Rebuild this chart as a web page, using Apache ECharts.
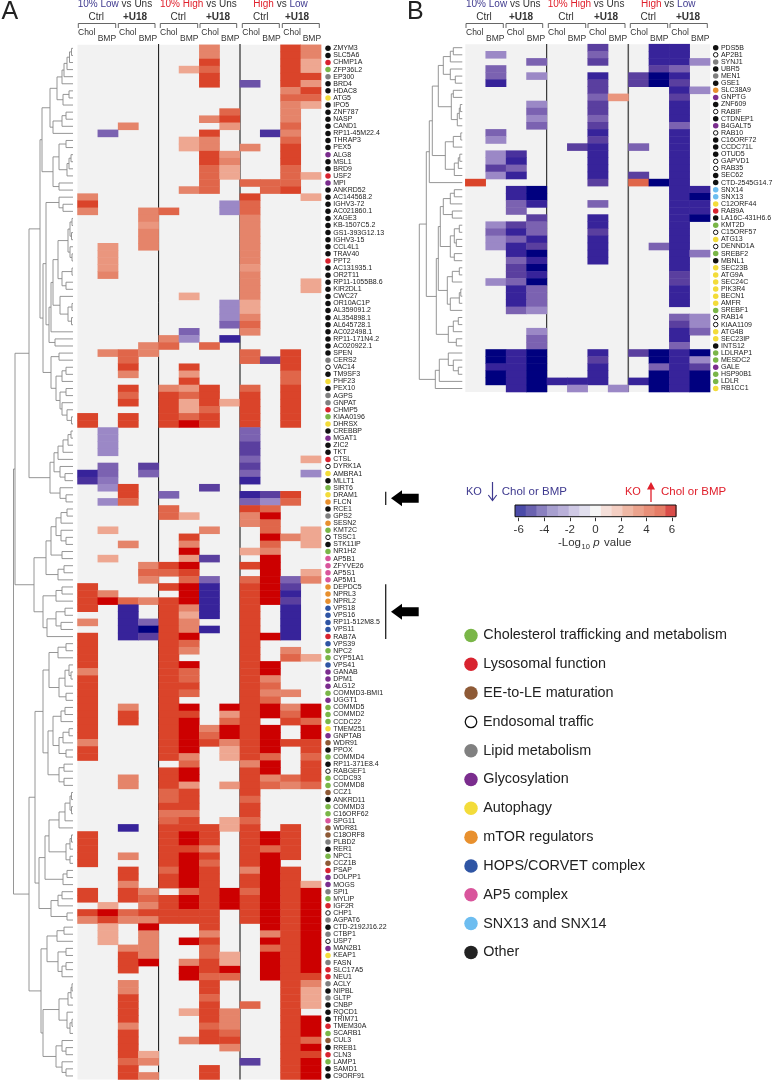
<!DOCTYPE html>
<html><head><meta charset="utf-8">
<style>html,body{margin:0;padding:0;background:#fff}#c{width:773px;height:1080px}</style>
<script src="https://cdn.jsdelivr.net/npm/echarts@6/dist/echarts.min.js"></script>
</head><body><div id="c"></div>
<script>
const columns=['L Ctrl Chol','L Ctrl BMP','L U18 Chol','L U18 BMP','H Ctrl Chol','H Ctrl BMP','H U18 Chol','H U18 BMP','HL Ctrl Chol','HL Ctrl BMP','HL U18 Chol','HL U18 BMP'];
// gene, group code (k other, r lyso, g chol, y auto, o mTOR, b HOPS, p glyco, w endo, c lipid, m EE-LE, a AP5, s SNX)
const genesA=['ZMYM3','SLC5A6','CHMP1A','ZFP36L2','EP300','BRD4','HDAC8','ATG5','IPO5','ZNF787','NASP','CAND1','RP11-45M22.4','THRAP3','PEX5','ALG8','MSL1','BRD9','USF2','MPI','ANKRD52','AC144568.2','IGHV3-72','AC021860.1','XAGE3','KB-1507C5.2','GS1-393G12.13','IGHV3-15','CCL4L1','TRAV40','PPT2','AC131935.1','OR2T11','RP11-1055B8.6','KIR2DL1','CWC27','OR10AC1P','AL359091.2','AL354898.1','AL645728.1','AC022498.1','RP11-171N4.2','AC020922.1','SPEN','CERS2','VAC14','TM9SF3','PHF23','PEX10','AGPS','GNPAT','CHMP5','KIAA0196','DHRSX','CREBBP','MGAT1','ZIC2','TKT','CTSL','DYRK1A','AMBRA1','MLLT1','SIRT6','DRAM1','FLCN','RCE1','GPS2','SESN2','KMT2C','TSSC1','STK11IP','NR1H2','AP5B1','ZFYVE26','AP5S1','AP5M1','DEPDC5','NPRL3','NPRL2','VPS18','VPS16','RP11-512M8.5','VPS11','RAB7A','VPS39','NPC2','CYP51A1','VPS41','GANAB','DPM1','ALG12','COMMD3-BMI1','UGGT1','COMMD5','COMMD2','CCDC22','TMEM251','GNPTAB','WDR91','PPOX','COMMD4','RP11-371E8.4','RABGEF1','CCDC93','COMMD8','CCZ1','ANKRD11','COMMD3','C16ORF62','SPG11','WDR81','C18ORF8','PLBD2','RER1','NPC1','CCZ1B','PSAP','DOLPP1','MOGS','SPI1','MYLIP','IGF2R','CHP1','AGPAT6','CTD-2192J16.22','CTBP1','USP7','MAN2B1','KEAP1','FASN','SLC17A5','NEU1','ACLY','NIPBL','GLTP','CNBP','RQCD1','TRIM71','TMEM30A','SCARB1','CUL3','RREB1','CLN3','LAMP1','SAMD1','C9ORF91'];
const groupsA='kkrgckkykkkkkkkpkkrpk'+'kkkkkkkkkrkkkkkkkkkkkk'+'kcwkykccrgy'+'kpkkrwykgyo'+'kcogwkg'+'aaaaooobbbbrbggbpppgpgggypmkg'+'kwggmkggamm'+'ckgmrpp'+'cgrwc'+'kcwpycrr'+'ckckkkrgmkrgkk';
// each row: column, level, column, level ...
const valuesA=[
[6,3,10,5,11,3],[6,3,10,5,11,3],[6,5,10,5,11,2],[5,2,6,4,10,5,11,2],[6,5,10,5,11,5],[6,5,8,-3.5,10,5,11,2.5],[10,3,11,5],[10,4,11,4],[10,3,11,2],[7,4,10,3],
[6,3,7,5,10,3],[2,3,7,2.5,10,4],[1,-3,6,5,9,-4.5,10,3],[5,2,6,3,10,4],[5,2,6,3,8,3,10,5],[6,5,7,2.5,10,5],[6,5,7,3,10,5],[6,4,7,2,10,4],[6,4,7,2,10,4,11,2],[6,4,8,4,9,4,10,4],
[5,3,6,4,9,4,10,5],[0,3,8,5,11,2],[0,5,7,-2,8,4],[0,3,3,3,4,4,7,-2,8,4],[3,3,8,3],[3,2.5,8,3],[3,3,8,3],[3,3,8,3],[1,2.5,3,3,8,3],[1,2.5,8,3],
[1,2.5,8,3],[1,2.5,8,2.5],[1,3,8,3],[8,3,11,2],[8,3,11,2],[5,2,8,3],[7,-2,8,2],[7,-2,8,2],[7,-2,8,3],[7,-3,8,4],
[5,-3,8,3],[4,3,5,-2,7,-5],[3,3,4,4,6,4],[1,3,2,4,3,3,8,4,10,5],[2,4,8,4,9,-4,10,5],[2,5,5,5,10,5],[2,3,5,2.5,10,4],[5,5,10,4],[2,5,4,3,5,2.5,6,5,8,4,10,5],[2,4,4,5,5,4,6,5,8,5,10,5],
[2,5,4,5,5,2,6,5,7,2,8,5,10,5],[4,5,5,2,6,4,8,5,10,5],[0,5,2,5,4,5,5,4,6,5,8,5,10,5],[0,5,2,5,4,5,5,6,6,5,8,5,10,5],[1,-2,8,-3],[1,-2,8,-3],[1,-2,8,-4],[1,-2,8,-4],[8,-3,11,2],[1,-3,3,-4,8,-4],
[0,-5,1,-3,3,-3,8,-3,11,-2],[0,-4.5,1,-2.5,8,-5],[1,-2,2,5,6,-4],[2,5,4,-3,8,-5,9,-4,10,5],[1,-2,2,4,8,-3,9,-2,10,4],[4,4,8,5,9,4],[4,4,5,2,8,3,9,6],[8,3,9,4],[1,2,6,3,9,4,11,2],[5,5,9,6,10,3,11,2],
[2,3,5,3,9,4,11,2],[5,6,8,2,9,3],[1,2,5,2.5,6,-4,9,6],[3,3,4,5,5,6,8,5,9,6],[3,4,4,4,5,5,9,6,11,2],[3,3,5,4,6,-3,8,4,9,6,10,-3,11,3],[0,5,4,5,5,6,6,-5,8,5,9,6,10,-4],[0,5,1,3,5,6,6,-5,8,5,9,6,10,-5],[0,5,1,6,2,4,3,3,4,5,5,6,6,-5,8,5,9,6,10,-4],[0,5,2,-5,4,5,5,3,6,-5,8,5,10,-5],
[2,-5,4,5,5,2,6,-5,8,5,10,-5],[0,3,2,-5,3,-3,4,5,5,3,8,5,10,-5],[2,-5,3,-6,4,5,5,3,6,-5,8,5,10,-5],[0,5,2,-5,3,-4,4,5,5,6,8,5,9,6,10,-5],[0,5,4,5,5,4,8,5],[0,5,4,5,5,3,8,5,10,3],[0,5,4,5,8,5,10,4,11,2],[0,5,4,5,5,6,8,5,9,6],[0,3,4,5,5,4,8,5,9,6],[0,5,4,5,5,4,8,5,9,3],
[0,5,4,5,5,5,8,5,9,4],[0,5,4,5,5,4,8,5,9,3,10,3],[0,5,4,5,8,5,9,4],[0,5,2,3,4,5,5,6,7,6,8,5,9,6,10,3,11,6],[0,5,2,5,4,5,5,5,7,2.5,8,5,9,6,10,4,11,6],[0,5,2,5,4,5,5,6,7,4,8,5,10,5,11,4],[0,5,4,5,5,6,6,3,7,6,8,5,9,6,11,6],[0,5,4,5,5,6,6,4,7,6,8,5,9,6,11,6],[0,3,4,5,5,6,6,5,7,3,8,5,9,6,10,5,11,5],[0,5,4,5,5,6,7,2,8,5,9,6,11,5],
[0,5,4,5,5,3,7,2,8,5,9,4,11,4],[5,4,8,3,9,6,11,5],[4,5,5,6,8,5,9,6,11,5],[2,3,4,5,5,6,8,5,9,3,10,4,11,5],[2,3,4,5,5,2.5,7,2.5,8,5,9,4,10,3,11,4],[4,4,5,5,8,5],[4,4,5,5,8,4],[4,5,5,5,8,5],[4,3.5,5,3.5,8,5],[4,4,5,5,7,2,8,4],
[2,-5,4,5,5,5,6,5,7,2,8,5,10,5],[0,5,4,5,5,6,6,5,8,5,9,6,10,5],[0,5,4,5,5,6,6,5,8,5,9,6,10,5],[0,5,4,5,5,5,6,3,8,5,9,4,10,5],[0,5,2,3,4,5,5,6,6,5,8,5,9,6,10,5],[0,5,4,5,5,6,6,4,8,5,9,6],[2,5,4,4,5,6,6,5,8,3,9,6,10,5],[2,5,4,5,5,6,6,5,8,5,9,6,10,5],[2,3,4,5,5,6,6,5,8,5,9,6,10,5,11,2],[0,5,2,5,3,3,5,4,6,5,7,6,8,4,9,6,10,5,11,6],
[0,5,2,5,3,4,4,5,5,6,6,5,7,6,8,5,9,6,10,5,11,6],[1,2,3,3,4,5,5,6,6,5,7,6,8,5,9,6,10,5,11,6],[0,5,1,6,2,4,3,5,4,5,5,5,6,5,8,5,9,6,10,5,11,6],[0,3,1,5,2,3,3,3,4,5,5,5,6,5,8,5,9,6,10,5,11,6],[1,2,3,6,6,5,9,6,10,5,11,6],[1,2,3,3,6,3,9,3,10,5,11,6],[1,2,3,3,5,6,6,5,9,6,10,5,11,6],[2,3,3,3,6,4,9,4,10,5,11,6],[2,5,3,3,6,4,7,2,9,6,10,5,11,6],[2,5,3,6,5,3,6,5,7,2,9,6,10,5,11,6],
[2,5,5,6,6,5,7,6,9,6,10,5,11,6],[5,6,6,4,7,4,9,6,10,5,11,5],[2,3,6,5,10,5,11,3],[2,3,6,5,10,5,11,2],[2,5,6,4,10,5,11,2],[2,5,6,5,8,4,10,5,11,2],[2,5,5,2,6,5,7,3,10,5],[2,5,6,5,7,3,10,5,11,6],[2,3,6,4,7,3,10,5,11,6],[2,5,6,5,7,4,10,5,11,6],
[2,5,5,3,6,5,7,5,10,5,11,4],[2,5,7,3,10,5,11,6],[2,5,3,2,10,5,11,5],[2,4,3,3,8,-4,10,5,11,6],[2,5,6,5,10,5,11,6],[2,5,3,3,6,5,10,5,11,6]];
const genesB=['PDS5B','AP2B1','SYNJ1','UBR5','MEN1','GSE1','SLC38A9','GNPTG','ZNF609','RABIF','CTDNEP1','B4GALT5','RAB10','C16ORF72','CCDC71L','OTUD5','GAPVD1','RAB35','SEC62','CTD-2545G14.7','SNX14','SNX13','C12ORF44','RAB9A','LA16C-431H6.6','KMT2D','C15ORF57','ATG13','DENND1A','SREBF2','MBNL1','SEC23B','ATG9A','SEC24C','PIK3R4','BECN1','AMFR','SREBF1','RAB14','KIAA1109','ATG4B','SEC23IP','INTS12','LDLRAP1','MESDC2','GALE','HSP90B1','LDLR','RB1CC1'];
const groupsB='kwckckopkwkpwkkkwwkk'+'ssyrkgwywgk'+'yyyyyyg'+'wwyyk'+'ggpggy';
const valuesB=[
[6,-4,9,-5,10,-5],[1,-2,6,-3,9,-5,10,-5],[3,-3,6,-4,9,-5,10,-5,11,-2],[1,-3,9,-4,10,-3],[1,-3,3,-2,6,-5,8,-4,9,-6,10,-5],[1,-5,6,-4,8,-4,9,-6,10,-4],[6,-4,10,-5,11,-2],[6,-3,7,2.5,10,-4],[3,-2,6,-4,10,-5],[3,-3,6,-4,10,-5],
[3,-2,6,-3,10,-5],[3,-3,6,-4,10,-3],[1,-3,6,-5,10,-5],[1,-2,6,-4,10,-5],[5,-4,6,-5,8,-3,10,-5],[1,-2,2,-4.5,6,-5,10,-5],[1,-2,2,-5,6,-5,10,-5],[1,-4,2,-3,6,-5,10,-5],[1,-2,2,-5,6,-5,8,-4,10,-5],[0,5,6,-4,8,4,9,-6,10,-5],
[2,-5,3,-6,10,-5,11,-5],[2,-5,3,-6,10,-5,11,-6],[2,-3,3,-5,6,-3,10,-5,11,-5],[2,-3,10,-5,11,-5],[3,-4,6,-5,10,-5,11,-6],[1,-2,2,-4,3,-3,6,-5,10,-5],[1,-3,2,-5,3,-3,6,-4,10,-5],[1,-2,2,-3,3,-5,6,-5,10,-5],[1,-2,2,-5,3,-4,6,-5,9,-3,10,-5],[2,-5,3,-6,6,-5,10,-5,11,-2.5],
[2,-3,3,-5,6,-5,10,-5],[2,-4,3,-6,10,-5],[2,-4,3,-5,10,-4],[1,-2,2,-3,3,-6,10,-4],[2,-5,3,-3,10,-5],[2,-5,3,-3,10,-5],[2,-5,3,-3,10,-5],[2,-3,3,-2],[10,-3,11,-2],[10,-4,11,-2],
[3,-2,10,-5,11,-3],[3,-3,10,-5],[3,-3,10,-3],[1,-6,2,-5,3,-6,6,-5,8,-4,9,-6,10,-5,11,-6],[1,-6,2,-5,3,-6,6,-4,9,-6,10,-5,11,-2],[1,-5,2,-5,3,-6,6,-5,9,-3,10,-5,11,-4],[1,-6,2,-5,3,-6,6,-5,9,-6,10,-5,11,-6],[1,-6,2,-5,3,-6,4,-5,5,-5,6,-5,8,-5,9,-6,10,-5,11,-6],[2,-5,3,-6,5,-2,7,-2,9,-6,10,-5,11,-6]];
// dendrograms: [merge height, upper branch, lower branch]; 0 = next leaf
const treeA=[59.5,[58,[44,[33,[31,[23,[16,[11,[9,[6,[3.5,[1.5,0,0],0],0],0],0],[10,[4,0,0],0]],[20,[11,[7,0,0],0],0]],[20,[14,[7,0,0],[6,[4,[2,0,0],0],0]],[14,0,0]]],
 [30,[27,[14,0,[10,0,0]],[24,[22,[20,[15,[5,[3,[1,0,0],[1.5,0,0]],[3,0,[1,0,0]]],[11,[1,0,0],[7,0,0]]],[13,0,[5,[1,0,0],[1.5,0,0]]]],0],[18,0,0]]],
  [22,[14,0,0],[17,[11,[7,0,0],0],[13,[7,0,0],[11,0,[6,0,[1.5,0,0]]]]]]]],
 [23,[19,[15,[10,[5,[2,0,0],0],0],0],[13,0,[8,0,0]]],[13,0,[7,0,0]]]],
 [39,[27,[22,[17,[12,[6,0,0],0],[12,0,[7,0,0]]],[11,0,0]],[15,[9,0,0],0]],[30,[17,[11,0,0],0],[26,[17,[8,0,0],[12,0,0]],0]]]],
 [44,[38,[30,[24,[15,[7,0,0],0],[14,[8,[4,0,[2,0,0]],0],[7,0,0]]],[25,[20,[12,[8,0,0],0],[14,[10,[4,0,0],0],[7,0,0]]],[14,[9,0,0],[9,0,0]]]],
  [34,[28,[24,[14,[8,[3,[1.5,0,0],[1.5,0,0]],0],0],[7,[3,[1.5,0,0],0],[3,0,0]]],[10,[6,0,0],0]],[22,[15,[11,0,0],0],[6,0,0]]]],
 [32,[26,[16,[9,0,0],0],[15,[7,0,0],[11,[7,0,0],0]]],[30,[14,[5,[2,[1,0,0],0],0],[6,0,[3,[1,0,0],0]]],[17,[11,0,[7,0,0]],[11,0,[7,0,0]]]]]]];
const treeB=[43,[36,[33,[30,[24,[19,[12,[9,0,0],0],[12,0,[7,0,0]]],[11,[9,0,0],[5,[3,[2,0,0],0],0]]],[17,[9,[1.5,0,0],0],[8,[4,[2.5,0,0],0],0]]],0],
 [26,[24,[22,[19,[12,[8,0,0],0],[10,0,0]],[12,[8,[3,0,0],[6,0,0]],[8,0,0]]],[15,[10,[3,0,0],0],[12,[3,[1.5,0,0],0],0]]],[14,[9,[4,0,0],0],[6,0,0]]]],
 [27,[23,[14,0,[9,0,[4,0,0]]],0],0]];
const colorStops=['#00007f','#37239a','#5a3f9f','#7b62b1','#9b88c6','#cfc8e0','#f2f2f2','#f5d5ca','#eea791','#e5846a','#e0664a','#da442a','#cc0000'];
const barColors=['#4b4ba8','#6a62b0','#8a80c0','#a79fcf','#b9b0d9','#cfc9e5','#e1dfee','#f6f6f6','#f5e0da','#f4cfc3','#efb8a5','#eba38d','#e88f78','#e57c66','#d94c48'];
const legendNames=['Cholesterol trafficking and metabolism','Lysosomal function','EE-to-LE maturation','Endosomal traffic','Lipid metabolism','Glycosylation','Autophagy','mTOR regulators','HOPS/CORVET complex','AP5 complex','SNX13 and SNX14','Other'];
const legendCodes=['g','r','m','w','c','p','y','o','b','a','s','k'];
const groupColors={k:'#111111',r:'#d8232f',g:'#7ab648',y:'#f3dc3a',o:'#e8902e',b:'#2f55a4',p:'#7b2d8e',w:'#ffffff',c:'#808080',m:'#8e5a36',a:'#d9559c',s:'#6dbdf0'};
const legendColors=Object.assign({},groupColors,{k:'#222222'});

const FONT='"Liberation Sans",Arial,sans-serif';
const layoutA={left:77.5,top:44.8,width:243.6,height:1034.7,treeLeft:0,treeWidth:73,dotLeft:325};
const layoutB={left:465.3,top:44.15,width:244.8,height:347.9,treeLeft:410,treeWidth:52.3,dotLeft:712.7};

function heatData(rows){const d=[];rows.forEach((r,i)=>{for(let k=0;k<r.length;k+=2)d.push([r[k],i,r[k+1]]);});return d;}
function treeSegments(tree){let leaf=0;const segs=[];
 function walk(n){if(n===0)return{h:0,y:leaf++};
  const a=walk(n[1]),b=walk(n[2]),h=n[0];
  segs.push([h,a.y,h,b.y],[a.h,a.y,h,a.y],[b.h,b.y,h,b.y]);
  return{h,y:(a.y+b.y)/2};}
 walk(tree);return segs;}
const option={animation:false,backgroundColor:'#fff',grid:[],xAxis:[],yAxis:[],series:[],
 visualMap:{show:false,type:'continuous',min:-6,max:6,seriesIndex:[0,3],dimension:2,inRange:{color:colorStops}}};
function addPanel(L,genes,groups,rows,tree){
 const n=genes.length,g=option.grid.length;
 const hide={show:false};
 option.grid.push({left:L.left,top:L.top,width:L.width,height:L.height,show:true,backgroundColor:'#f2f2f2',borderWidth:0});
 option.xAxis.push({gridIndex:g,type:'category',data:columns,...hide});
 option.yAxis.push({gridIndex:g,type:'category',data:genes,inverse:true,...hide});
 option.series.push({type:'heatmap',xAxisIndex:g,yAxisIndex:g,data:heatData(rows),silent:true,itemStyle:{borderWidth:0}});
 option.grid.push({left:L.treeLeft,top:L.top,width:L.treeWidth,height:L.height});
 option.xAxis.push({gridIndex:g+1,type:'value',min:0,max:L.treeWidth,inverse:true,...hide});
 option.yAxis.push({gridIndex:g+1,type:'value',min:-0.5,max:n-0.5,inverse:true,...hide});
 option.series.push({type:'custom',xAxisIndex:g+1,yAxisIndex:g+1,silent:true,clip:false,data:treeSegments(tree),
  renderItem:(p,api)=>{const a=api.coord([api.value(0),api.value(1)]),b=api.coord([api.value(2),api.value(3)]);
   return{type:'line',shape:{x1:a[0],y1:a[1],x2:b[0],y2:b[1]},style:{stroke:'#8a8a8a',lineWidth:0.9}};}});
 option.grid.push({left:L.dotLeft,top:L.top,width:6,height:L.height});
 option.xAxis.push({gridIndex:g+2,type:'value',min:0,max:1,...hide});
 option.yAxis.push({gridIndex:g+2,type:'category',data:genes,inverse:true,...hide});
 option.series.push({type:'scatter',xAxisIndex:g+2,yAxisIndex:g+2,silent:true,
  label:{show:true,position:'right',distance:2.5,formatter:p=>p.name,fontFamily:FONT,fontSize:7,color:'#1a1a1a'},
  data:genes.map((name,i)=>{const c=groups[i];return{name,value:[0.5,i],symbolSize:c==='w'?4.5:5.5,
    itemStyle:{opacity:1,color:groupColors[c],borderColor:c==='w'?'#111':groupColors[c],borderWidth:c==='w'?1:0}};})});
}
addPanel(layoutA,genesA,groupsA,valuesA,treeA);
addPanel(layoutB,genesB,groupsB,valuesB,treeB);
// colour bar
let g=option.grid.length;
option.grid.push({left:515,top:505,width:161,height:11.7,show:true,borderColor:'#111',borderWidth:1,backgroundColor:'transparent',z:5});
option.xAxis.push({gridIndex:g,type:'category',data:barColors.map((c,i)=>i),show:false});
option.yAxis.push({gridIndex:g,type:'category',data:['bar'],show:false});
option.series.push({type:'custom',xAxisIndex:g,yAxisIndex:g,silent:true,data:barColors.map((c,i)=>[i,0]),
 renderItem:(p,api)=>{const c=api.coord([api.value(0),0]),s=api.size([1,1]);
  return{type:'rect',shape:{x:c[0]-s[0]/2,y:c[1]-s[1]/2,width:s[0]+0.5,height:s[1]},style:{fill:barColors[p.dataIndex]}};}});
g++;
option.grid.push({left:518.7,top:516.7,width:153.3,height:1});
option.xAxis.push({gridIndex:g,type:'value',min:-6,max:6,interval:2,position:'bottom',axisLine:{show:false},axisTick:{show:true,length:3.5,lineStyle:{color:'#333'}},splitLine:{show:false},
 axisLabel:{fontFamily:FONT,fontSize:11.5,color:'#333',margin:6}});
option.yAxis.push({gridIndex:g,type:'value',show:false});
// group legend
g++;
option.grid.push({left:465,top:621,width:12,height:345.8});
option.xAxis.push({gridIndex:g,type:'value',min:0,max:1,show:false});
option.yAxis.push({gridIndex:g,type:'category',data:legendNames,inverse:true,show:false});
option.series.push({type:'scatter',xAxisIndex:g,yAxisIndex:g,silent:true,
 label:{show:true,position:'right',distance:5.5,formatter:p=>p.name,fontFamily:FONT,fontSize:14.4,color:'#222'},
 data:legendNames.map((name,i)=>{const c=legendCodes[i];return{name,value:[0.5,i],symbolSize:c==='w'?11.5:13.5,
   itemStyle:{opacity:1,color:legendColors[c],borderColor:c==='w'?'#111':legendColors[c],borderWidth:c==='w'?1.3:0}};})});

// static text and annotations
const BLUE='#3f3a8f',RED='#e0202c',INK='#333';
const gfx=[];
function text(x,y,t,size,fill,extra){gfx.push({type:'text',silent:true,style:Object.assign({x,y,text:t,fontFamily:FONT,fontSize:size,fill,align:'left',verticalAlign:'middle'},extra||{})});}
function line(pts,stroke,w){gfx.push({type:'polyline',silent:true,shape:{points:pts},style:{stroke,lineWidth:w,fill:null}});}
function header(cfg){
 const rich={l:{fill:BLUE,fontSize:10,fontFamily:FONT},h:{fill:RED,fontSize:10,fontFamily:FONT},n:{fill:INK,fontSize:10,fontFamily:FONT}};
 cfg.title.forEach(([x,t])=>gfx.push({type:'text',silent:true,style:{x,y:4.5,text:t,rich,verticalAlign:'middle',align:'left'}}));
 cfg.ctrl.forEach(x=>text(x,17,'Ctrl',10,INK,{align:'center'}));
 cfg.u18.forEach(x=>text(x,17,'+U18',10,INK,{align:'center',fontWeight:'bold'}));
 cfg.br.forEach(([a,b])=>line([[a,28],[a,23.5],[b,23.5],[b,28]],'#555',0.9));
 cfg.chol.forEach(x=>text(x,33,'Chol',8.5,INK));
 cfg.bmp.forEach(x=>text(x,39,'BMP',8.5,INK));
 cfg.sep.forEach(([x,c,w])=>line([[x,44],[x,cfg.bottom]],c,w));
}
const titles=['{l|10% Low}{n| vs Uns}','{h|10% High}{n| vs Uns}','{h|High}{n| vs }{l|Low}'];
header({title:[[77.7,titles[0]],[160,titles[1]],[253.3,titles[2]]],ctrl:[96.3,178.3,260.7],u18:[135,218,297],
 br:[[78.3,115.7],[118.3,155],[160.3,197.7],[200,236.7],[242.3,279.3],[282.3,319.3]],
 chol:[78,119,160,201.3,242.3,283.3],bmp:[97.7,138.7,180,221,262.3,302.7],sep:[[158.6,'#111',1],[240,'#555',1.5]],bottom:1079.5});
header({title:[[466,titles[0]],[547.7,titles[1]],[641,titles[2]]],ctrl:[484,566,648.3],u18:[521,606,688],
 br:[[466,503.3],[506,542.7],[548.3,585.7],[588,625],[630.3,667.7],[670,707.3]],
 chol:[466,506.7,548,589,630.3,671.3],bmp:[486,526.7,567.7,608.7,650,691],sep:[[546.7,'#111',1],[628.3,'#555',1.5]],bottom:392});
text(1.5,12.5,'A',25,'#222');
text(407,12.5,'B',25,'#222');
// key captions
text(466,492,'KO',11,BLUE); text(501.7,492,'Chol or BMP',11.5,BLUE);
line([[492.5,482],[492.5,500]],BLUE,1.2); line([[488.3,495],[492.5,500.5],[496.7,495]],BLUE,1.2);
text(625,492,'KO',11,RED); text(661,492,'Chol or BMP',11.5,RED);
line([[651,488],[651,502]],RED,1.3);
gfx.push({type:'polygon',silent:true,shape:{points:[[651,482],[647,489.5],[655,489.5]]},style:{fill:RED}});
text(558,543,'-Log',11.5,INK); text(581.5,546.5,'10',7.5,INK); text(593.3,543,'p',11.5,INK,{fontStyle:'italic'}); text(604,543,'value',11.5,INK);
// callouts
function callout(y0,y1,yA){line([[385.7,y0],[385.7,y1]],'#222',1.3);
 gfx.push({type:'polygon',silent:true,shape:{points:[[391,yA],[402,yA-8],[402,yA-4.5],[418.7,yA-4.5],[418.7,yA+4.5],[402,yA+4.5],[402,yA+8]]},style:{fill:'#000'}});}
callout(491.7,505,498.3);
callout(584.3,639,611.7);
option.graphic={elements:gfx};
echarts.init(document.getElementById('c'),null,{renderer:'canvas'}).setOption(option);
</script></body></html>
